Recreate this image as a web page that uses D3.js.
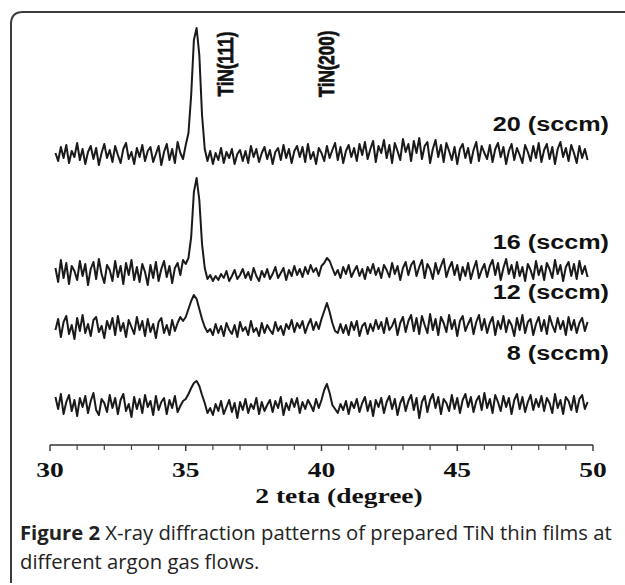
<!DOCTYPE html>
<html><head><meta charset="utf-8">
<script src="https://cdn.jsdelivr.net/npm/d3@7"></script>
<style>html,body{margin:0;padding:0;background:#fff;}svg{display:block;}</style>
</head><body>
<svg id="chart" width="625" height="585"></svg>
<script>
// ---- DATA ----
const tickValues = [30, 35, 40, 45, 50];
const minorTicks = [31,32,33,34,36,37,38,39,41,42,43,44,46,47,48,49];
const xLabel = "2 teta (degree)";
const seriesNames = ["20 (sccm)", "16 (sccm)", "12 (sccm)", "8 (sccm)"];
const seriesOffsets = [290, 173, 118, 40];
const peakLabels = ["TiN(111)", "TiN(200)"];
const peakLabelPos = [36.5, 40.2];
const angleStart = 30.2, angleStep = 0.1;
const caption1Bold = "Figure 2";
const caption1 = " X-ray diffraction patterns of prepared TiN thin films at";
const caption2 = "different argon gas flows.";

const s20 = [2,-6,8,-3,10,-8,4,-2,12,-5, 6,-9,3,9,-4,7,-10,2,11,-3, 5,-7,9,0,-8,6,12,-4,3,-9, 7,-2,10,-6,4,8,-7,1,9,-10,
 3,11,-5,6,-8,13,2,-4, 10,22,60,115,127,100,40,6, -6,4,-9,2,
 -5,7,-8,3,-3,6,-9,1,5,-6, 4,-8,9,-2,6,-7,2,8,-4,5, -9,3,7,-5,10,-3,6,-8,4,9, -2,8,-7,11,-4,3,-9,7,2,-6,
 9,-3,5,12,-5,8,-8,4,10,-2, 7,-6,11,0,13,-4,6,14,-7,9, 2,15,-3,10,-8,12,4,-5,16,3, 11,-6,14,2,17,-4,9,13,-8,6,
 15,-2,10,-7,12,4,-5,8,-9,6, 11,-3,7,-8,5,13,-6,9,2,-4, 10,-7,6,12,-2,8,-9,4,11,-5, 7,0,-8,10,3,-6,9,-3,12,-7,
 5,11,-4,8,-9,6,13,-2,7,-6, 10,2,-8,9,-3,6,-5];
const s16 = [4,-10,12,-6,9,-12,6,1,-8,11, -4,8,-13,3,10,-7,13,-2,-11,7, 2,-9,11,-5,6,-12,9,-3,12,-8, 5,-10,8,0,-13,7,-6,10,-9,3,
 11,-5,6,-11,4,9,-3,12, 8,14,35,80,94,72,28,4, -7,-3,-9,-4,
 -8,-2,-6,1,-9,-4,2,-7,-3,3, -6,0,-8,4,-4,-9,1,-5,3,-7, -2,5,-6,-1,4,-8,2,-4,6,-3, 3,-5,5,-2,7,0,4,-4,6,9,
 14,11,4,-3,2,-6,5,-2,7,-5, 1,6,-4,3,-7,5,-1,8,-3,4, -6,7,2,-5,9,-2,6,-8,4,10, -3,7,11,-4,5,12,-6,8,3,-7,
 9,-2,6,13,-5,4,10,-3,7,-8, 5,-4,9,-7,3,11,-6,2,8,-5, 6,12,-3,9,-8,4,13,-2,7,-6, 10,-4,5,-9,8,2,-7,11,-3,6,
 -8,9,3,-6,12,-2,7,-9,5,10, -4,8,-7,11,-2,6,-5];
const s12 = [-3,8,-10,5,11,-7,2,-12,9,-4, 12,-6,3,-9,7,10,-5,1,-11,6, -2,9,-8,11,-4,4,-10,7,0,-7, 10,-3,6,-9,8,-5,3,-11,5,9,
 -6,2,-8,7,-4,4,10,6, 10,18,26,32,28,18,8,0, -5,-2,-8,3,
 -6,1,-9,4,-3,-7,2,-10,5,-4, 0,-8,6,-5,-1,-9,4,-6,2,-3, -7,5,-4,1,-8,3,-2,7,-5,4, -1,6,-6,2,8,-3,5,-2,8,16,
 24,15,4,-4,-6,3,-6,2,-8,5, -3,6,-9,1,4,-7,3,-4,7,-2, 5,-6,9,-3,1,8,-8,4,10,-5, 6,12,-4,9,-7,11,2,-6,13,-3,
 8,-8,10,4,-5,12,-2,7,-9,6, 11,-4,3,9,-7,5,12,-3,8,-6, 4,10,-8,6,-2,11,-5,7,2,-9, 9,-3,12,-6,5,8,-8,3,10,-4,
 7,-7,11,2,-5,9,-2,6,-8,10, -3,7,-6,4,9,-4,5];
const s8 = [8,-4,11,-9,3,10,-6,5,-11,7, -2,9,-8,4,12,-5,-10,6,2,-7, 10,-3,7,-9,5,11,-6,1,-12,8, -4,6,-8,10,-2,4,-10,9,-5,3,
 7,-9,5,-3,9,-7,-1,4, 6,11,17,22,24,19,10,2, -8,-3,-10,1,
 -6,4,-9,-2,5,-7,2,-13,3,-5, 6,-8,1,-4,7,-9,3,-6,0,5, -7,4,-3,8,-10,2,-5,6,-2,7, -8,3,-4,5,0,-6,6,-3,5,15,
 21,12,0,-4,-8,1,-5,4,-9,3, -3,6,-7,2,8,-6,4,-11,5,-2, 7,-8,3,9,-4,6,-10,2,8,-6, 4,10,-5,7,-13,3,9,-7,5,11,
 -3,8,-9,6,2,-6,10,-4,7,-8, 5,11,-2,8,-7,4,9,-5,12,-3, 6,-8,10,3,-6,9,-2,7,-9,5, 11,-4,8,-7,3,10,-5,6,-2,9,
 -6,7,2,-8,11,-3,5,-9,8,4, -5,9,-7,6,10,-4,3];
const seriesValues = [s20, s16, s12, s8];

// ---- CHART ----
const svg = d3.select("#chart");
const x = d3.scaleLinear().domain([30, 50]).range([50, 593]);
const y = d3.scaleLinear().domain([0, 420]).range([445, 25]);
const SANS = "'Liberation Sans', Arial, Helvetica, sans-serif";
const SERIF = "'Liberation Serif', 'Times New Roman', Times, serif";

// frame
svg.append("path")
  .attr("d", "M11,583 L11,24 Q11,12 23,12 L625,12")
  .attr("fill", "none").attr("stroke", "#3c3c3c").attr("stroke-width", 2);

// series
const line = d3.line().x(d => x(d[0])).y(d => y(d[1]));
seriesValues.forEach((vals, k) => {
  const pts = vals.map((v, i) => [angleStart + i * angleStep, seriesOffsets[k] + v]);
  svg.append("path").datum(pts)
    .attr("d", line).attr("fill", "none")
    .attr("stroke", "#1a1a1a").attr("stroke-width", 2)
    .attr("stroke-linejoin", "round");
});

// series labels
const labelBase = [131, 249, 299, 360];
seriesNames.forEach((name, k) => {
  svg.append("text")
    .attr("transform", `translate(609,${labelBase[k]}) scale(1.2,1)`)
    .attr("text-anchor", "end")
    .style("font-family", SANS)
    .style("font-weight", "bold").style("font-size", "21px")
    .attr("fill", "#111").text(name);
});

// peak labels (rotated)
peakLabels.forEach((t, k) => {
  svg.append("text")
    .attr("transform", `translate(${x(peakLabelPos[k]) + 7},64) rotate(-90) scale(1,1.25)`)
    .attr("text-anchor", "middle")
    .style("font-family", SANS)
    .style("font-weight", "bold").style("font-size", "17px")
    .attr("fill", "#111").attr("stroke", "#111").attr("stroke-width", 0.6)
    .text(t);
});

// x axis
const axisY = 445;
svg.append("line").attr("x1", x(30)).attr("x2", x(50)).attr("y1", axisY).attr("y2", axisY)
  .attr("stroke", "#333").attr("stroke-width", 1.6);
svg.selectAll(".maj").data(tickValues).enter().append("line")
  .attr("x1", d => x(d)).attr("x2", d => x(d)).attr("y1", axisY).attr("y2", axisY + 6)
  .attr("stroke", "#333").attr("stroke-width", 1.4);
svg.selectAll(".min").data(minorTicks).enter().append("line")
  .attr("x1", d => x(d)).attr("x2", d => x(d)).attr("y1", axisY).attr("y2", axisY + 5)
  .attr("stroke", "#444").attr("stroke-width", 1.2);
tickValues.forEach(v => {
  svg.append("text")
    .attr("transform", `translate(${x(v)},477) scale(1.25,1)`)
    .attr("text-anchor", "middle")
    .style("font-family", SERIF)
    .style("font-weight", "bold").style("font-size", "22px")
    .attr("fill", "#111").text(v);
});
svg.append("text")
  .attr("transform", `translate(339,503) scale(1.25,1)`)
  .attr("text-anchor", "middle")
  .style("font-family", SERIF)
  .style("font-weight", "bold").style("font-size", "22px")
  .attr("fill", "#111").text(xLabel);

// caption
const c1 = svg.append("text").attr("x", 20).attr("y", 540)
  .style("font-family", "'Open Sans', sans-serif").attr("font-size", 19).attr("fill", "#222");
c1.append("tspan").attr("font-weight", "bold").text(caption1Bold);
c1.append("tspan").text(caption1);
const w = c1.node().getComputedTextLength();
if (w > 0) c1.attr("font-size", 19 * 592 / w);
svg.append("text").attr("x", 20).attr("y", 569)
  .style("font-family", "'Open Sans', sans-serif").attr("font-size", c1.attr("font-size")).attr("fill", "#222")
  .text(caption2);
</script>
</body></html>
